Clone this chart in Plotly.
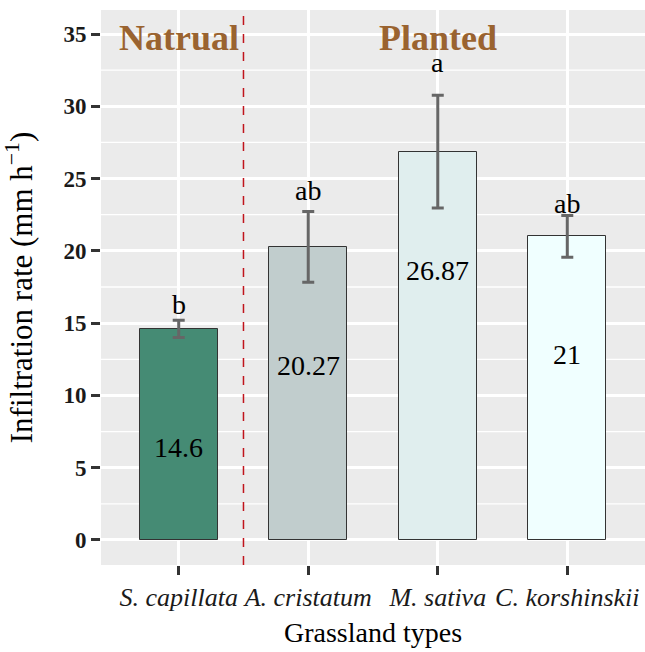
import plotly.graph_objects as go

categories = ["S. capillata", "A. cristatum", "M. sativa", "C. korshinskii"]
means = [14.6, 20.27, 26.87, 21.0]
errors = [0.6, 2.45, 3.9, 1.45]
letters = ["b", "ab", "a", "ab"]
letter_y = [16.3, 24.2, 33.0, 23.3]
value_labels = ["14.6", "20.27", "26.87", "21"]
bar_colors = ["#458B74", "#C1CDCD", "#E0EEEE", "#F0FFFF"]
y_ticks = [0, 5, 10, 15, 20, 25, 30, 35]
minor_ticks = [2.5, 7.5, 12.5, 17.5, 22.5, 27.5, 32.5]
groups = ["Natrual", "Planted"]
group_x = [1.0, 3.0]
group_y = 34.75
divider_x = 1.5

xs = [1, 2, 3, 4]
serif = "Liberation Serif"

fig = go.Figure()
fig.add_trace(go.Bar(
    x=xs, y=means, width=0.6,
    marker=dict(color=bar_colors, line=dict(color="#333333", width=1)),
    error_y=dict(type="data", array=errors, visible=True, color="#666666",
                 thickness=3, width=6),
    showlegend=False, hoverinfo="skip",
))

annotations = []
for x, m, lab in zip(xs, means, value_labels):
    annotations.append(dict(x=x, y=m - 8.2, text=lab, showarrow=False,
                            font=dict(family=serif, size=28, color="black")))
for x, ly, lt in zip(xs, letter_y, letters):
    annotations.append(dict(x=x, y=ly, text=lt, showarrow=False,
                            font=dict(family=serif, size=28, color="black")))
for gx, g in zip(group_x, groups):
    annotations.append(dict(x=gx, y=group_y, text="<b>" + g + "</b>", showarrow=False,
                            font=dict(family=serif, size=36, color="#9A6330")))

shapes = []
for mt in minor_ticks:
    shapes.append(dict(type="line", xref="paper", x0=0, x1=1, yref="y", y0=mt, y1=mt,
                       line=dict(color="white", width=1.3), layer="below"))
shapes.append(dict(type="line", xref="x", x0=divider_x, x1=divider_x, yref="paper", y0=0, y1=1,
                   line=dict(color="#C0141C", width=1.5, dash="dash")))

fig.update_layout(
    width=645, height=652,
    margin=dict(l=101, r=0, t=10, b=87),
    paper_bgcolor="white", plot_bgcolor="#EBEBEB",
    annotations=annotations, shapes=shapes,
    bargap=0,
    xaxis=dict(range=[0.4, 4.6], tickvals=xs,
               ticktext=["<i>" + c + "</i>" for c in categories],
               tickangle=0, automargin=False,
               showgrid=True, gridcolor="white", gridwidth=2.5,
               ticks="outside", ticklen=9, tickwidth=3, tickcolor="#333333",
               tickfont=dict(family=serif, size=26, color="#1a1a1a"),
               title=dict(text="Grassland types", font=dict(family=serif, size=28, color="black"),
                          standoff=11),
               zeroline=False, showline=False),
    yaxis=dict(range=[-1.73, 36.66], tickvals=y_ticks, automargin=False,
               showgrid=True, gridcolor="white", gridwidth=2.5,
               ticks="outside", ticklen=9, tickwidth=3, tickcolor="#333333",
               tickfont=dict(family=serif, size=23, color="#1a1a1a", weight="bold"),
               title=dict(text="Infiltration rate (mm h<sup>\u22121</sup>)",
                          font=dict(family=serif, size=31, color="black"), standoff=22),
               zeroline=False, showline=False),
)

fig.write_html("out.html")
